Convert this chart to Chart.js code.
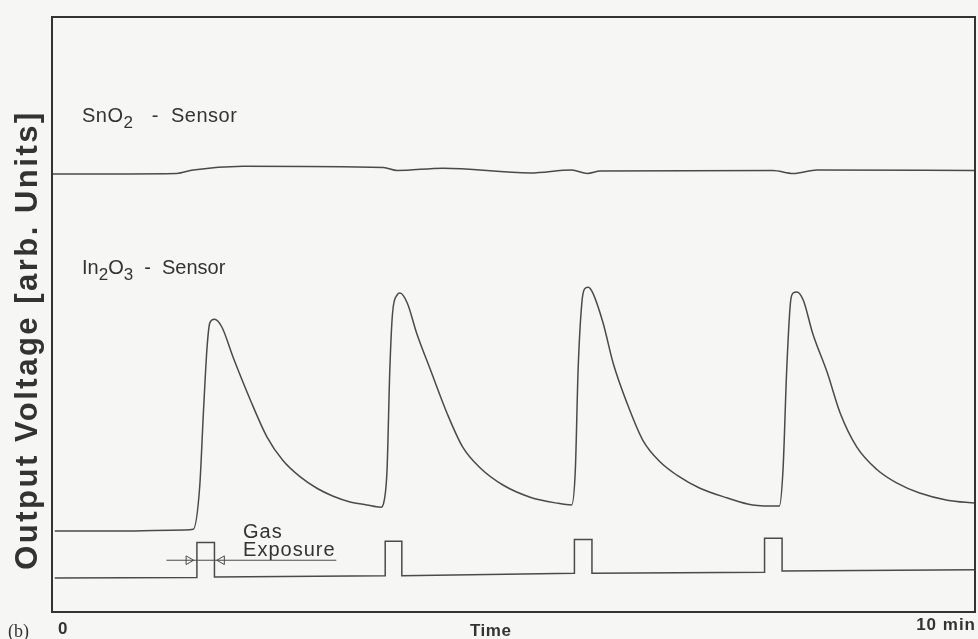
<!DOCTYPE html>
<html>
<head>
<meta charset="utf-8">
<script src="https://cdn.jsdelivr.net/npm/chart.js@4"></script>
<style>
  html, body { margin: 0; padding: 0; background: #f6f6f4; }
  canvas { display: block; }
</style>
</head>
<body>
<canvas id="sensorChart" width="978" height="639"></canvas>
<script>
// time in minutes, output voltage in arbitrary units (box spans 0..100)
const timeSn = [0, 1.35, 1.53, 2.07, 3.59, 3.74, 4.24, 5.18, 5.63, 5.80, 5.94, 7.81, 8.03, 8.29, 10];
const voltSn = [73.6, 73.7, 74.3, 74.9, 74.7, 74.2, 74.6, 73.8, 74.3, 73.7, 74.1, 74.2, 73.7, 74.3, 74.2];

const timeIn = [0.03, 0.74, 1.44, 1.53, 1.60, 1.64, 1.68, 1.71, 1.76, 1.84, 1.96, 2.15, 2.33, 2.50, 2.69, 2.87, 3.04, 3.23, 3.41, 3.56,
  3.60, 3.63, 3.66, 3.69, 3.74, 3.77, 3.85, 3.95, 4.10, 4.28, 4.45, 4.64, 4.89, 5.18, 5.47, 5.63,
  5.67, 5.70, 5.74, 5.77, 5.81, 5.86, 5.97, 6.08, 6.23, 6.40, 6.59, 6.77, 7.02, 7.31, 7.59, 7.88,
  7.92, 7.96, 8.00, 8.03, 8.07, 8.14, 8.24, 8.40, 8.54, 8.72, 8.94, 9.15, 9.40, 9.70, 10];
const voltIn = [13.6, 13.6, 13.8, 13.9, 21.0, 33.4, 44.5, 48.6, 49.2, 47.9, 42.9, 35.6, 29.4, 25.5, 22.7, 20.8, 19.5, 18.5, 18.0, 17.6,
  18.8, 23.9, 40.7, 50.3, 53.3, 53.6, 51.9, 46.9, 40.7, 33.4, 27.7, 24.2, 21.3, 19.3, 18.3, 18.0,
  23.9, 40.7, 51.9, 54.3, 54.6, 53.6, 48.6, 41.8, 35.1, 28.9, 25.2, 23.0, 20.8, 19.2, 18.0, 17.8,
  23.9, 40.7, 51.9, 53.6, 53.8, 52.4, 46.9, 40.2, 33.4, 27.7, 23.9, 21.7, 20.0, 18.8, 18.3];

// gas exposure pulse trace
const timeGas = [0.03, 1.57, 1.57, 1.76, 1.76, 3.61, 3.61, 3.79, 3.79, 5.66, 5.66, 5.85, 5.85, 7.72, 7.72, 7.91, 7.91, 10];
const gasLevel = [5.7, 5.8, 11.7, 11.7, 5.9, 6.1, 11.9, 11.9, 6.1, 6.5, 12.2, 12.2, 6.5, 6.7, 12.4, 12.4, 6.9, 7.1];

// "Gas Exposure" marker line and its two arrow heads
const markerTime = [1.24, 3.08];
const arrowTime = [1.48, 1.84];
const markerLevel = 8.7;

const ink = '#4a4a4a';
const paper = '#f6f6f4';
const toPoints = (xs, ys) => xs.map((x, i) => ({ x, y: ys[i] }));

function drawSub(ctx, parts, x, y, size) {
  let cx = x;
  parts.forEach(([txt, sub]) => {
    ctx.font = (sub ? Math.round(size * 0.85) : size) + 'px "Liberation Sans", Arial, sans-serif';
    ctx.fillText(txt, cx, sub ? y + size * 0.3 : y);
    cx += ctx.measureText(txt).width;
  });
}

const decorations = {
  id: 'decorations',
  afterDraw(chart) {
    const { ctx, chartArea: a, scales: { x, y } } = chart;
    ctx.save();
    ctx.strokeStyle = '#333';
    ctx.lineWidth = 2;
    ctx.strokeRect(a.left, a.top, a.right - a.left, a.bottom - a.top);

    ctx.fillStyle = '#333';
    ctx.textBaseline = 'alphabetic';
    ctx.textAlign = 'left';
    ctx.letterSpacing = '0.5px';
    drawSub(ctx, [['SnO', false], ['2', true], ['   -  Sensor', false]], 82, 122, 20);
    ctx.letterSpacing = '0px';
    drawSub(ctx, [['In', false], ['2', true], ['O', false], ['3', true], ['  -  Sensor', false]], 82, 274, 20);

    ctx.letterSpacing = '1px';
    ctx.font = '20px "Liberation Sans", Arial, sans-serif';
    ctx.fillText('Gas', x.getPixelForValue(2.07), y.getPixelForValue(12.4));
    ctx.fillText('Exposure', x.getPixelForValue(2.07), y.getPixelForValue(9.4));

    ctx.letterSpacing = '0.5px';
    ctx.font = 'bold 17px "Liberation Sans", Arial, sans-serif';
    ctx.fillText('0', 58, 634);
    ctx.fillText('Time', 470, 636);
    ctx.textAlign = 'right';
    ctx.letterSpacing = '1px';
    ctx.fillText('10 min', 976, 630);

    ctx.letterSpacing = '0px';
    ctx.textAlign = 'left';
    ctx.font = '18px "Liberation Serif", serif';
    ctx.fillText('(b)', 8, 637);

    ctx.translate(37, 340);
    ctx.rotate(-Math.PI / 2);
    ctx.textAlign = 'center';
    ctx.letterSpacing = '2.5px';
    ctx.font = 'bold 31px "Liberation Sans", Arial, sans-serif';
    ctx.fillText('Output Voltage [arb. Units]', 0, 0);
    ctx.restore();
  }
};

new Chart(document.getElementById('sensorChart'), {
  type: 'line',
  data: {
    datasets: [
      { data: toPoints(timeSn, voltSn), borderColor: ink, borderWidth: 1.5, pointRadius: 0, cubicInterpolationMode: 'monotone' },
      { data: toPoints(timeIn, voltIn), borderColor: ink, borderWidth: 1.5, pointRadius: 0, cubicInterpolationMode: 'monotone' },
      { data: toPoints(timeGas, gasLevel), borderColor: ink, borderWidth: 1.5, pointRadius: 0, tension: 0 },
      { data: toPoints(markerTime, [markerLevel, markerLevel]), borderColor: ink, borderWidth: 1, pointRadius: 0 },
      {
        data: toPoints(arrowTime, [markerLevel, markerLevel]), showLine: false,
        pointStyle: 'triangle', pointRotation: [90, -90], pointRadius: 5,
        pointBackgroundColor: paper, pointBorderColor: ink, pointBorderWidth: 1
      }
    ]
  },
  options: {
    responsive: false,
    animation: false,
    layout: { autoPadding: false, padding: { left: 52, top: 17, right: 3, bottom: 27 } },
    plugins: { legend: { display: false }, tooltip: { enabled: false } },
    scales: {
      x: { type: 'linear', min: 0, max: 10, display: false },
      y: { min: 0, max: 100, display: false }
    }
  },
  plugins: [decorations]
});
</script>
</body>
</html>
